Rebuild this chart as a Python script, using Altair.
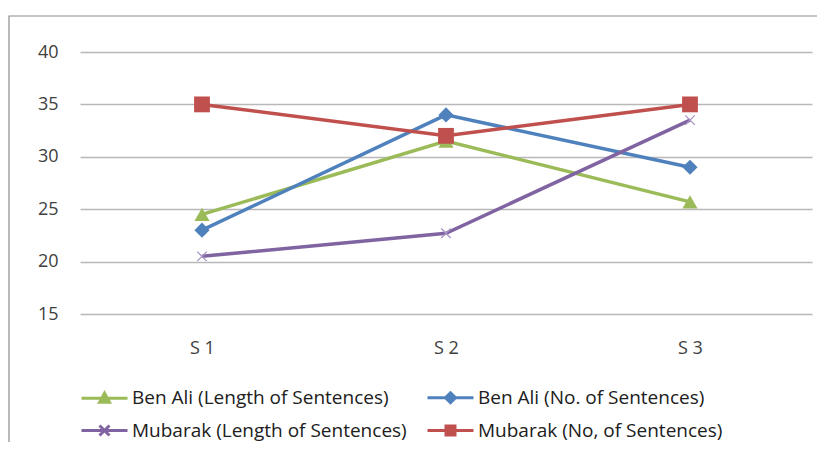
import altair as alt
import pandas as pd

categories = ["S 1", "S 2", "S 3"]
series_names = [
    "Ben Ali (Length of Sentences)",
    "Ben Ali (No. of Sentences)",
    "Mubarak (Length of Sentences)",
    "Mubarak (No, of Sentences)",
]
ben_ali_length = [24.5, 31.5, 25.7]
ben_ali_no = [23, 34, 29]
mubarak_length = [20.5, 22.7, 33.5]
mubarak_no = [35, 32, 35]
y_ticks = [15, 20, 25, 30, 35, 40]

colors = ["#9BBB59", "#4F81BD", "#8064A2", "#C0504D"]

rows = []
for i, (name, vals) in enumerate(zip(series_names, [ben_ali_length, ben_ali_no, mubarak_length, mubarak_no])):
    for c, v in zip(categories, vals):
        rows.append({"series": name, "cat": c, "value": v, "order": i})
df = pd.DataFrame(rows)

FONT = "Open Sans"

# legend symbol paths: line + marker (unit = sqrt(size)/2)
line_p = "M-2.3,0H2.3"
legend_paths = [
    line_p + "M-0.5,0.42L0,-0.5L0.5,0.42Z",
    line_p + "M0,-0.5L0.5,0L0,0.5L-0.5,0Z",
    line_p + "M-0.5,-0.5L0.5,0.5M-0.5,0.5L0.5,-0.5",
    line_p + "M-0.45,-0.45H0.45V0.45H-0.45Z",
]
x_path = "M-0.55,-0.55L0.55,0.55M-0.55,0.55L0.55,-0.55"

# plot colour scale (domain listed in reverse so it is not merged with the legend scales)
color_scale = alt.Scale(domain=series_names[::-1], range=colors[::-1])

x_enc = alt.X("cat:N", sort=categories, scale=alt.Scale(type="point", padding=0.5),
              axis=alt.Axis(title=None, labelAngle=0, domain=False, ticks=False,
                            labelPadding=25, labelFontSize=18, labelFont=FONT,
                            labelColor="#404040", grid=False))
y_enc = alt.Y("value:Q", scale=alt.Scale(domain=[15, 40], nice=False, zero=False),
              axis=alt.Axis(title=None, values=y_ticks, domain=False, ticks=False,
                            labelPadding=22, labelFontSize=18, labelFont=FONT,
                            labelColor="#404040", grid=True, gridColor="#B8B8B8",
                            gridWidth=1.5))

frame = alt.Chart(pd.DataFrame({"a": [0]})).mark_rect(
    fill=None, stroke="#8c8c8c", strokeWidth=1.2
).encode(x=alt.value(-71), x2=alt.value(780), y=alt.value(-36), y2=alt.value(460))

lines = alt.Chart(df).mark_line(strokeWidth=3.5).encode(
    x=x_enc, y=y_enc,
    color=alt.Color("series:N", scale=color_scale, legend=None),
    detail="series:N",
    order="order:Q",
)

legend = alt.Legend(
    title=None, orient="none", legendX=13, legendY=334,
    direction="horizontal", columns=2, columnPadding=14, rowPadding=10,
    labelFont=FONT, labelFontSize=19, labelColor="#202020", labelLimit=500,
    symbolSize=400, symbolStrokeWidth=3, labelOffset=16, padding=0,
)

# legend-only layer (its marks are pushed outside the drawing)
legend_layer = alt.Chart(df).mark_point(strokeWidth=3, opacity=1, yOffset=3000).encode(
    x=x_enc, y=y_enc,
    fill=alt.Fill("series:N", scale=alt.Scale(domain=series_names, range=colors), legend=legend),
    stroke=alt.Stroke("series:N", scale=alt.Scale(domain=series_names, range=colors), legend=legend),
    shape=alt.Shape("series:N", scale=alt.Scale(domain=series_names, range=legend_paths), legend=legend),
)


def pts(idx, shape, size):
    return alt.Chart(df).transform_filter(
        alt.datum.series == series_names[idx]
    ).mark_point(filled=True, size=size, opacity=1, shape=shape).encode(
        x=x_enc, y=y_enc,
        color=alt.Color("series:N", scale=color_scale, legend=None),
    )


tri_pts = pts(0, "triangle-up", 230)
dia_pts = pts(1, "diamond", 230)
sq_pts = pts(3, "square", 250)

x_pts = alt.Chart(df).transform_filter(
    alt.datum.series == series_names[2]
).mark_point(filled=False, size=300, shape=x_path,
             strokeWidth=1.3, color="#A894C4", opacity=1).encode(
    x=x_enc, y=y_enc,
)

chart = alt.layer(frame, lines, tri_pts, dia_pts, x_pts, sq_pts, legend_layer).properties(
    width=732, height=262,
    padding={"left": 72, "top": 44, "right": 5, "bottom": 128},
    autosize=alt.AutoSizeParams(type="none"),
).configure_view(stroke=None)

chart.save("out.html", embed_options={"renderer": "svg", "actions": False})
